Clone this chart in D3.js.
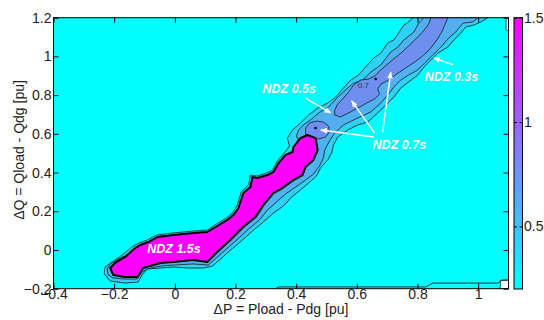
<!DOCTYPE html>
<html>
<head>
<meta charset="utf-8">
<script src="https://cdn.jsdelivr.net/npm/d3@7"></script>
<style>
  body { margin: 0; background: #fff; }
  text { font-family: "Liberation Sans", Arial, sans-serif; }
</style>
</head>
<body>
<script>
// ---- data (dP, dQ in pu) ----
const xTicks = [-0.4, -0.2, 0, 0.2, 0.4, 0.6, 0.8, 1];
const yTicks = [-0.2, 0, 0.2, 0.4, 0.6, 0.8, 1, 1.2];
const cbarTicks = [0.5, 1, 1.5];
const cbarRange = [0.2, 1.5];

// contour regions, one outline per NDZ level
const ndz03 = [[0.784,1.2],[0.771,1.178],[0.755,1.162],[0.738,1.121],[0.722,1.085],[0.702,1.069],[0.679,1.017],[0.656,0.992],[0.629,0.945],[0.606,0.904],[0.580,0.878],[0.556,0.837],[0.530,0.790],[0.504,0.759],[0.471,0.733],[0.441,0.697],[0.414,0.656],[0.388,0.620],[0.371,0.578],[0.378,0.537],[0.361,0.501],[0.338,0.460],[0.322,0.413],[0.302,0.398],[0.272,0.382],[0.249,0.387],[0.243,0.336],[0.219,0.300],[0.210,0.253],[0.203,0.222],[0.190,0.191],[0.170,0.165],[0.137,0.134],[0.107,0.103],[0.061,0.098],[-0.005,0.088],[-0.061,0.077],[-0.091,0.052],[-0.118,0.036],[-0.137,0.021],[-0.174,-0.026],[-0.207,-0.062],[-0.230,-0.088],[-0.233,-0.124],[-0.213,-0.160],[-0.164,-0.171],[-0.121,-0.165],[-0.108,-0.129],[-0.091,-0.098],[-0.048,-0.093],[-0.005,-0.088],[0.041,-0.093],[0.094,-0.093],[0.124,-0.083],[0.147,-0.052],[0.180,-0.005],[0.219,0.046],[0.252,0.093],[0.292,0.145],[0.325,0.191],[0.358,0.227],[0.385,0.274],[0.414,0.310],[0.441,0.346],[0.467,0.382],[0.480,0.423],[0.504,0.465],[0.517,0.501],[0.523,0.542],[0.537,0.584],[0.570,0.620],[0.603,0.646],[0.636,0.661],[0.669,0.708],[0.702,0.759],[0.722,0.790],[0.745,0.837],[0.771,0.868],[0.801,0.904],[0.821,0.945],[0.844,0.981],[0.867,1.017],[0.900,1.048],[0.920,1.085],[0.943,1.121],[0.959,1.152],[0.986,1.162],[1.009,1.178],[1.032,1.2]];

const ndz05 = [[0.821,1.2],[0.804,1.172],[0.788,1.126],[0.755,1.085],[0.735,1.048],[0.712,1.023],[0.679,0.956],[0.646,0.919],[0.619,0.878],[0.589,0.862],[0.570,0.837],[0.537,0.790],[0.507,0.739],[0.474,0.708],[0.447,0.671],[0.424,0.646],[0.408,0.620],[0.401,0.589],[0.411,0.553],[0.395,0.506],[0.371,0.475],[0.348,0.439],[0.332,0.392],[0.289,0.372],[0.266,0.351],[0.256,0.310],[0.236,0.279],[0.226,0.237],[0.216,0.196],[0.200,0.165],[0.176,0.145],[0.143,0.114],[0.107,0.083],[0.061,0.072],[-0.005,0.062],[-0.058,0.052],[-0.088,0.026],[-0.114,0.005],[-0.147,-0.021],[-0.180,-0.041],[-0.213,-0.072],[-0.223,-0.098],[-0.220,-0.129],[-0.203,-0.145],[-0.164,-0.150],[-0.124,-0.150],[-0.108,-0.114],[-0.091,-0.098],[-0.048,-0.083],[-0.005,-0.078],[0.061,-0.072],[0.110,-0.078],[0.137,-0.041],[0.163,-0.005],[0.200,0.046],[0.243,0.108],[0.279,0.155],[0.305,0.206],[0.335,0.248],[0.365,0.289],[0.398,0.325],[0.431,0.361],[0.457,0.392],[0.477,0.434],[0.490,0.475],[0.494,0.516],[0.510,0.563],[0.527,0.604],[0.556,0.646],[0.603,0.682],[0.646,0.713],[0.679,0.759],[0.702,0.801],[0.722,0.842],[0.745,0.878],[0.771,0.904],[0.801,0.930],[0.827,0.971],[0.850,1.007],[0.877,1.048],[0.903,1.095],[0.926,1.126],[0.950,1.172],[0.983,1.178],[0.999,1.2]];

const ndz07 = [
  [[0.844,1.2],[0.837,1.167],[0.817,1.126],[0.794,1.090],[0.771,1.054],[0.745,1.017],[0.725,0.992],[0.698,0.956],[0.679,0.930],[0.659,0.899],[0.639,0.883],[0.613,0.878],[0.589,0.852],[0.573,0.816],[0.556,0.785],[0.537,0.754],[0.527,0.723],[0.527,0.697],[0.546,0.687],[0.573,0.708],[0.603,0.733],[0.632,0.759],[0.659,0.780],[0.675,0.806],[0.669,0.832],[0.679,0.857],[0.705,0.878],[0.731,0.909],[0.761,0.940],[0.791,0.971],[0.817,1.002],[0.844,1.043],[0.864,1.085],[0.880,1.126],[0.890,1.162],[0.900,1.2]],
  [[0.431,0.594],[0.431,0.630],[0.444,0.656],[0.467,0.666],[0.490,0.661],[0.507,0.640],[0.510,0.609],[0.497,0.584],[0.474,0.573],[0.451,0.578]]
];

const ndz15 = [[-0.213,-0.093],[-0.197,-0.067],[-0.164,-0.036],[-0.131,0.010],[-0.114,0.026],[-0.088,0.041],[-0.058,0.067],[-0.005,0.077],[0.061,0.088],[0.107,0.093],[0.140,0.124],[0.173,0.155],[0.193,0.181],[0.210,0.217],[0.216,0.248],[0.226,0.294],[0.249,0.325],[0.256,0.377],[0.272,0.372],[0.305,0.387],[0.325,0.403],[0.342,0.449],[0.365,0.491],[0.388,0.506],[0.391,0.532],[0.414,0.578],[0.437,0.594],[0.464,0.578],[0.471,0.516],[0.457,0.465],[0.431,0.429],[0.421,0.387],[0.391,0.361],[0.355,0.320],[0.325,0.294],[0.292,0.232],[0.266,0.170],[0.226,0.119],[0.183,0.052],[0.140,-0.010],[0.107,-0.062],[0.061,-0.052],[-0.005,-0.062],[-0.048,-0.067],[-0.104,-0.093],[-0.124,-0.140],[-0.164,-0.140],[-0.203,-0.129]];

// empty (no data) corners and the low contour running along the bottom
const noData = [
  [[1.072,-0.2],[1.074,-0.158],[1.1,-0.156],[1.1,-0.2]],
  [[1.092,1.2],[1.092,1.14],[1.1,1.13],[1.1,1.2]]
];
const bottomContour = [[0.332,-0.2],[0.342,-0.191],[0.827,-0.191],[0.850,-0.171],[1.065,-0.171],[1.078,-0.155],[1.1,-0.155]];

const peaks = [[0.464,0.630],[0.662,0.883]];
const contourLabels = [{text: "0.7", at: [0.603,0.837]}];

const notes = [
  {text: "NDZ 0.3s", at: [0.824,0.873]},
  {text: "NDZ 0.5s", at: [0.289,0.811]},
  {text: "NDZ 0.7s", at: [0.652,0.522]},
  {text: "NDZ 1.5s", at: [-0.091,-0.016]}
];
const arrows = [
  [[0.917,0.956],[0.854,0.992]],
  [[0.431,0.785],[0.514,0.708]],
  [[0.656,0.584],[0.481,0.620]],
  [[0.659,0.604],[0.583,0.770]],
  [[0.685,0.609],[0.712,0.919]]
];

// ---- layout ----
const width = 544, height = 320;
const box = {left: 53.5, right: 508.5, top: 17.7, bottom: 288.7};
const cbar = {left: 514, right: 522.5, top: 17.7, bottom: 289};

const x = d3.scaleLinear().domain([-0.4, 1.1]).range([box.left, box.right]);
const y = d3.scaleLinear().domain([-0.2, 1.2]).range([box.bottom, box.top]);
const cy = d3.scaleLinear().domain(cbarRange).range([cbar.bottom, cbar.top]);
const cool = d3.interpolateRgb("#00ffff", "#ff00ff");

const bandFill = ["#2fd2f6", "#52b0f0", "#6e8ff0"];

const svg = d3.select("body").append("svg")
  .attr("width", width).attr("height", height);

const defs = svg.append("defs");
defs.append("clipPath").attr("id", "plotclip")
  .append("rect")
    .attr("x", box.left).attr("y", box.top)
    .attr("width", box.right - box.left).attr("height", box.bottom - box.top);

defs.append("marker")
    .attr("id", "head").attr("viewBox", "0 0 10 10")
    .attr("refX", 9).attr("refY", 5)
    .attr("markerWidth", 5).attr("markerHeight", 5)
    .attr("orient", "auto")
  .append("path").attr("d", "M0,1L10,5L0,9Z").attr("fill", "#fff");

const grad = defs.append("linearGradient").attr("id", "coolbar")
  .attr("x1", 0).attr("y1", 1).attr("x2", 0).attr("y2", 0);
d3.range(0, 1.01, 0.1).forEach(t => {
  grad.append("stop").attr("offset", t).attr("stop-color", cool(t));
});

const closed = d3.line().x(d => x(d[0])).y(d => y(d[1])).curve(d3.curveLinearClosed);
const open = d3.line().x(d => x(d[0])).y(d => y(d[1]));

const plot = svg.append("g").attr("clip-path", "url(#plotclip)");

plot.append("rect")
  .attr("x", box.left).attr("y", box.top)
  .attr("width", box.right - box.left).attr("height", box.bottom - box.top)
  .attr("fill", cool(0));

plot.selectAll(".nodata")
  .data(noData)
  .enter().append("path")
    .attr("class", "nodata")
    .attr("d", closed)
    .attr("fill", "#fff")
    .attr("stroke", "#1a3434").attr("stroke-width", 0.9);

plot.append("path")
  .attr("d", open(bottomContour))
  .attr("fill", "none").attr("stroke", "#1a3434").attr("stroke-width", 1);

const bands = [[ndz03], [ndz05], ndz07];
bands.forEach((polys, i) => {
  plot.selectAll(".band" + i)
    .data(polys)
    .enter().append("path")
      .attr("class", "band" + i)
      .attr("d", closed)
      .attr("fill", bandFill[i])
      .attr("stroke", "#163030")
      .attr("stroke-width", 0.9)
      .attr("stroke-linejoin", "round");
});

plot.append("path")
  .attr("d", closed(ndz15))
  .attr("fill", "#ff00ff")
  .attr("stroke", "#000")
  .attr("stroke-width", 2)
  .attr("stroke-linejoin", "round");

plot.selectAll(".peak")
  .data(peaks)
  .enter().append("circle")
    .attr("cx", d => x(d[0])).attr("cy", d => y(d[1]))
    .attr("r", 1.3).attr("fill", "#000");

plot.selectAll(".clabel")
  .data(contourLabels)
  .enter().append("text")
    .attr("x", d => x(d.at[0])).attr("y", d => y(d.at[1]))
    .attr("font-size", 8).attr("fill", "#334")
    .text(d => d.text);

// annotations
plot.selectAll(".arrow")
  .data(arrows)
  .enter().append("path")
    .attr("d", d => open(d))
    .attr("stroke", "#fff").attr("stroke-width", 1.4)
    .attr("fill", "none")
    .attr("marker-end", "url(#head)");

plot.selectAll(".note")
  .data(notes)
  .enter().append("text")
    .attr("x", d => x(d.at[0])).attr("y", d => y(d.at[1]))
    .attr("font-size", 12.5).attr("font-weight", "bold").attr("font-style", "italic")
    .attr("fill", "#fff")
    .text(d => d.text);

// frame and axes
svg.append("rect")
  .attr("x", box.left).attr("y", box.top)
  .attr("width", box.right - box.left).attr("height", box.bottom - box.top)
  .attr("fill", "none").attr("stroke", "#000").attr("stroke-width", 1);

const tickText = sel => sel.selectAll("text").attr("font-size", 14).attr("fill", "#222")
  .style("font-family", '"Liberation Sans", Arial, sans-serif');

svg.append("g")
  .attr("transform", `translate(0,${box.bottom})`)
  .call(d3.axisBottom(x).tickValues(xTicks).tickSize(-5).tickPadding(0).tickFormat(d3.format("")))
  .call(g => g.select(".domain").remove())
  .call(tickText);

svg.append("g")
  .attr("transform", `translate(0,${box.top})`)
  .call(d3.axisTop(x).tickValues(xTicks).tickSize(-5).tickFormat(""))
  .call(g => g.select(".domain").remove());

svg.append("g")
  .attr("transform", `translate(${box.left},0)`)
  .call(d3.axisLeft(y).tickValues(yTicks).tickSize(-5).tickPadding(2).tickFormat(d3.format("")))
  .call(g => g.select(".domain").remove())
  .call(tickText);

svg.append("g")
  .attr("transform", `translate(${box.right},0)`)
  .call(d3.axisRight(y).tickValues(yTicks).tickSize(-5).tickFormat(""))
  .call(g => g.select(".domain").remove());

svg.append("text")
  .attr("x", (box.left + box.right) / 2 + 0).attr("y", 314)
  .attr("text-anchor", "middle").attr("font-size", 14).attr("fill", "#222")
  .text("ΔP = Pload - Pdg [pu]");

svg.append("text")
  .attr("transform", "translate(24,150) rotate(-90)")
  .attr("text-anchor", "middle").attr("font-size", 14).attr("fill", "#222")
  .text("ΔQ = Qload - Qdg [pu]");

// colour bar
svg.append("rect")
  .attr("x", cbar.left).attr("y", cbar.top)
  .attr("width", cbar.right - cbar.left).attr("height", cbar.bottom - cbar.top)
  .attr("fill", "url(#coolbar)").attr("stroke", "#000").attr("stroke-width", 1);

svg.append("g")
  .attr("transform", `translate(${cbar.right},0)`)
  .call(d3.axisRight(cy).tickValues(cbarTicks).tickSize(-3).tickPadding(1.5).tickFormat(d3.format("")))
  .call(g => g.select(".domain").remove())
  .call(tickText);

svg.append("g")
  .attr("transform", `translate(${cbar.left},0)`)
  .call(d3.axisLeft(cy).tickValues(cbarTicks).tickSize(-3).tickFormat(""))
  .call(g => g.select(".domain").remove());
</script>
</body>
</html>
